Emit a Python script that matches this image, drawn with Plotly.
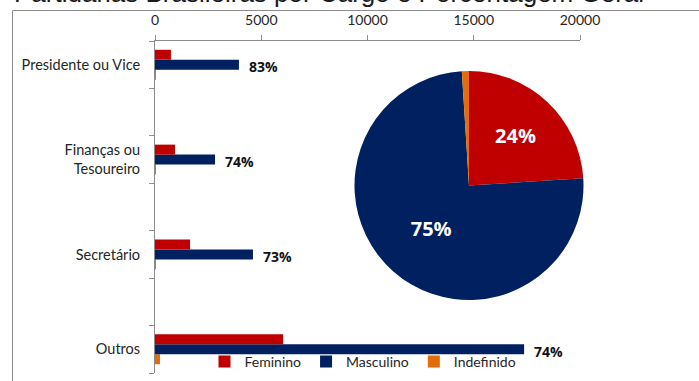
import plotly.graph_objects as go

# ---------------- data ----------------
title_text = "Partidárias Brasileiras por Cargo e Porcentagem Geral"
categories = ["Presidente ou Vice", "Finanças ou<br>Tesoureiro", "Secretário", "Outros"]
feminino = [750, 940, 1650, 6030]
masculino = [3950, 2825, 4610, 17370]
indefinido = [30, 20, 40, 235]
masc_pct_labels = ["83%", "74%", "73%", "74%"]
series_names = ["Feminino", "Masculino", "Indefinido"]
pie_values = [24, 75, 1]
pie_text = ["24%", "75%", ""]
x_ticks = [0, 5000, 10000, 15000, 20000]
# axis order bottom -> top, with empty spacer slots between categories
axis_order = ["Outros", " ", "Secretário", "  ", "Finanças ou<br>Tesoureiro", "   ", "Presidente ou Vice"]

# ---------------- style ----------------
C_F, C_M, C_I = "#C00000", "#002060", "#E46C0A"
GRAY = "#8C8C8C"
TXT = "#262626"
FONT = "Lato"

W, H = 699, 381


def px_x(p):
    return p / W


def px_y(p):
    return (H - p) / H


fig = go.Figure()

# grouped bars: first trace sits lowest in each group
for name, vals, col in [("Indefinido", indefinido, C_I),
                        ("Masculino", masculino, C_M),
                        ("Feminino", feminino, C_F)]:
    fig.add_trace(go.Bar(
        y=categories, x=vals, name=name, orientation="h",
        marker=dict(color=col, line=dict(width=0)),
        legendrank={"Feminino": 1, "Masculino": 2, "Indefinido": 3}[name],
        xaxis="x", yaxis="y",
    ))

# percentage labels at end of Masculino bars
for cat, val, lab in zip(categories, masculino, masc_pct_labels):
    fig.add_annotation(x=val, y=cat, xref="x", yref="y", text=lab,
                       showarrow=False, xanchor="left", yanchor="middle",
                       xshift=8, yshift=-2,
                       font=dict(family="Open Sans", size=14, color="#111111", weight="bold"))

# overall pie
fig.add_trace(go.Pie(
    labels=series_names, values=pie_values, text=pie_text,
    textinfo="text", textposition="inside", insidetextorientation="horizontal",
    sort=False, direction="clockwise", rotation=0,
    marker=dict(colors=[C_F, C_M, C_I], line=dict(width=0)),
    textfont=dict(family="Open Sans", size=20, color="white", weight="bold"),
    domain=dict(x=[px_x(354.5), px_x(583.5)], y=[px_y(300), px_y(71)]),
    showlegend=False, hoverinfo="label+percent",
))

# title (partly cut at the top, as in the reference)
fig.add_annotation(text=title_text, xref="paper", yref="paper",
                   x=px_x(12), y=px_y(10), xanchor="left", yanchor="bottom",
                   showarrow=False,
                   font=dict(family="Liberation Sans", size=26, color="#1a1a1a"))

# outer chart frame: only its left and top edges are inside the picture
fig.add_shape(type="line", xref="paper", yref="paper",
              x0=px_x(12.5), x1=1, y0=px_y(10.5), y1=px_y(10.5),
              line=dict(color=GRAY, width=1), layer="below")
fig.add_shape(type="line", xref="paper", yref="paper",
              x0=px_x(12.5), x1=px_x(12.5), y0=px_y(10.5), y1=0,
              line=dict(color=GRAY, width=1), layer="below")

fig.update_layout(
    width=W, height=H,
    margin=dict(l=0, r=0, t=0, b=0, autoexpand=False),
    paper_bgcolor="white", plot_bgcolor="white",
    barmode="group", bargap=0.37, bargroupgap=0,
    font=dict(family=FONT, size=14, color=TXT),
    xaxis=dict(domain=[px_x(155), px_x(580)], side="top", range=[0, 20000],
               tickvals=x_ticks, ticktext=[str(v) for v in x_ticks],
               ticks="outside", ticklen=5, tickcolor=GRAY, showline=True,
               linecolor=GRAY, linewidth=1, showgrid=False, zeroline=False,
               ticklabelstandoff=4, tickfont=dict(family=FONT, size=14, color=TXT),
               anchor="y", fixedrange=True, automargin=False),
    yaxis=dict(type="category", categoryorder="array", categoryarray=axis_order,
               domain=[px_y(373), px_y(41)],
               range=[-0.5, len(axis_order) - 0.5], tickson="boundaries",
               ticks="outside", ticklen=5, tickcolor=GRAY, showline=True,
               linecolor=GRAY, linewidth=1, showgrid=False, zeroline=False,
               ticklabelstandoff=11, tickfont=dict(family=FONT, size=14.5, color=TXT),
               anchor="x", fixedrange=True, automargin=False),
    legend=dict(orientation="h", x=px_x(363), xanchor="center",
                y=px_y(362), yanchor="middle", bgcolor="rgba(0,0,0,0)",
                font=dict(family=FONT, size=14, color=TXT), itemwidth=30),
    showlegend=True,
)

fig.write_html("out.html")
